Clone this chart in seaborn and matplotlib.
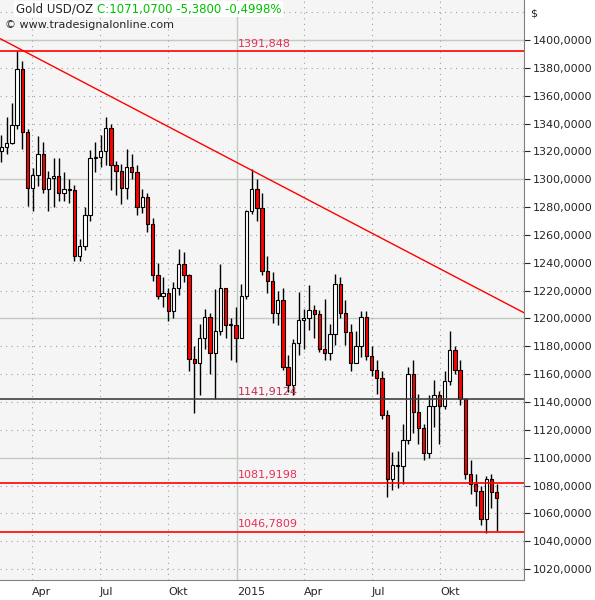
import pandas as pd
import seaborn as sns
import matplotlib.pyplot as plt
import matplotlib.dates as mdates
from matplotlib.ticker import FuncFormatter

# weekly candles (approx)
closes = [1323, 1326, 1339, 1379, 1334, 1294, 1303, 1318, 1293, 1301,
          1302, 1290, 1293, 1292, 1245, 1252, 1274, 1315, 1316, 1320,
          1337, 1310, 1306, 1294, 1309, 1305, 1280, 1287, 1268, 1231,
          1216, 1218, 1205, 1222, 1239, 1231, 1171, 1168, 1186, 1201,
          1175, 1191, 1222, 1195, 1195,
          1186, 1216, 1277, 1293, 1279, 1234, 1227, 1204, 1213, 1165,
          1152, 1182, 1199, 1200, 1206, 1203, 1178, 1175, 1189, 1225,
          1204, 1190, 1168, 1180, 1201, 1173, 1163, 1157, 1131, 1085,
          1095, 1094, 1113, 1160, 1133, 1121, 1103, 1137, 1145, 1137,
          1155, 1177, 1163, 1142, 1088, 1081, 1076, 1056, 1085, 1075,
          1071]
highs = [1332, 1345, 1355, 1392, 1385, 1336, 1308, 1331, 1327, 1306,
         1315, 1315, 1305, 1300, 1296, 1257, 1280, 1321, 1327, 1332,
         1345, 1340, 1313, 1311, 1322, 1318, 1310, 1293, 1290, 1272,
         1240, 1230, 1222, 1226, 1250, 1248, 1232, 1180, 1196, 1207,
         1204, 1221, 1239, 1221, 1200,
         1208, 1225, 1278, 1307, 1300, 1290, 1245, 1233, 1220, 1222,
         1174, 1185, 1219, 1207, 1224, 1210, 1206, 1214, 1196, 1232,
         1230, 1213, 1196, 1191, 1205, 1205, 1180, 1170, 1162, 1134,
         1104, 1105, 1124, 1165, 1170, 1146, 1124, 1145, 1156, 1148,
         1162, 1191, 1180, 1170, 1143, 1098, 1088, 1080, 1087, 1088,
         1081]
lows = [1312, 1318, 1325, 1336, 1322, 1281, 1277, 1295, 1290, 1277,
        1280, 1284, 1284, 1283, 1241, 1241, 1249, 1270, 1305, 1309,
        1310, 1292, 1289, 1282, 1286, 1300, 1274, 1276, 1262, 1227,
        1214, 1208, 1198, 1200, 1217, 1226, 1162, 1132, 1145, 1178,
        1160, 1142, 1188, 1186, 1170,
        1169, 1190, 1214, 1275, 1270, 1231, 1218, 1197, 1195, 1163,
        1147, 1145, 1174, 1178, 1192, 1186, 1176, 1170, 1170, 1181,
        1200, 1181, 1162, 1170, 1172, 1170, 1159, 1146, 1128, 1072,
        1077, 1078, 1081, 1110, 1118, 1110, 1098, 1100, 1122, 1110,
        1135, 1152, 1160, 1138, 1085, 1074, 1065, 1052, 1046, 1064,
        1047]
first_open = 1320

levels = [1391.848, 1141.9124, 1081.9198, 1046.7809]
level_labels = ["1391,848", "1141,9124", "1081,9198", "1046,7809"]
level_colors = ["#ff0000", "#404040", "#ff0000", "#ff0000"]

trend_dates = ["2014-02-17", "2016-01-22"]
trend_values = [1401, 1204]

df = pd.DataFrame({"close": closes, "high": highs, "low": lows})
df["date"] = pd.date_range("2014-02-21", periods=len(df), freq="W-FRI") - pd.Timedelta(days=2)
df["open"] = df["close"].shift(1).fillna(first_open)

sns.set_style("white")
plt.rcParams["font.family"] = ["DejaVu Sans"]

fig = plt.figure(figsize=(5.95, 6.0), dpi=100)
ax = fig.add_axes([0.0, 0.033, 0.881, 0.967])
ax.set_facecolor("#f5f5f5")

# grid
for v in range(1020, 1421, 20):
    if v % 100 == 0:
        ax.axhline(v, color="#c0ccc0", lw=1, zorder=0)
    else:
        ax.axhline(v, color="#a0a0a0", lw=0.8, ls=(0, (1, 4)), zorder=0)
for d in ["2014-04-01", "2014-07-01", "2014-10-01", "2015-04-01", "2015-07-01", "2015-10-01"]:
    ax.axvline(pd.Timestamp(d), color="#a0a0a0", lw=0.8, ls=(0, (1, 4)), zorder=0)
ax.axvline(pd.Timestamp("2015-01-01"), color="#c0ccc0", lw=1, zorder=0)

# candles
x = mdates.date2num(df["date"])
up = df["close"] >= df["open"]
ax.vlines(x, df["low"], df["high"], color="black", lw=1, zorder=2)
body_lo = df[["open", "close"]].min(axis=1)
body_h = (df["close"] - df["open"]).abs().clip(lower=0.8)
ax.bar(x, body_h, bottom=body_lo, width=4.5,
       color=["white" if u else "#ff0000" for u in up],
       edgecolor="black", lw=0.8, zorder=3)

# levels
for lv, lab, col in zip(levels, level_labels, level_colors):
    ax.axhline(lv, color=col, lw=1.2, zorder=4)
    ax.text(pd.Timestamp("2015-01-02"), lv + 2, lab, color="#e8305a" if col != "#404040" else "#c03050",
            fontsize=8, va="bottom", ha="left", zorder=5)

# trend line
tdf = pd.DataFrame({"date": pd.to_datetime(trend_dates), "value": trend_values})
sns.lineplot(data=tdf, x="date", y="value", color="#ff0000", lw=1, ax=ax, zorder=4)

ax.set_xlim(pd.Timestamp("2014-02-17"), pd.Timestamp("2016-01-22"))
ax.set_ylim(1012, 1428.7)
ax.set_xlabel("")
ax.set_ylabel("")

ax.yaxis.tick_right()
ax.set_yticks(range(1020, 1401, 20))
ax.yaxis.set_major_formatter(FuncFormatter(lambda v, p: f"{v:.4f}".replace(".", ",")))
ax.tick_params(axis="y", labelsize=8, length=4, direction="out", pad=2)

ticks = pd.to_datetime(["2014-04-01", "2014-07-01", "2014-10-01", "2015-01-01",
                        "2015-04-01", "2015-07-01", "2015-10-01"])
ax.set_xticks(ticks)
ax.set_xticklabels(["Apr", "Jul", "Okt", "2015", "Apr", "Jul", "Okt"], ha="left")
ax.tick_params(axis="x", labelsize=8, length=4, direction="out", pad=1)
for s in ["top", "left"]:
    ax.spines[s].set_visible(False)
for s in ["right", "bottom"]:
    ax.spines[s].set_color("#808080")

fig.text(0.891, 0.985, "$", fontsize=8, va="top")
t1 = ax.text(0.03, 0.995, "Gold USD/OZ ", transform=ax.transAxes, fontsize=8.5, va="top",
             bbox=dict(facecolor="white", edgecolor="none", pad=1), zorder=6)
ax.annotate("C:1071,0700 -5,3800 -0,4998%", xycoords=t1, xy=(1, 0), va="bottom",
            fontsize=8.5, color="#00c000", zorder=6,
            bbox=dict(facecolor="white", edgecolor="none", pad=1))
ax.text(0.01, 0.965, "© www.tradesignalonline.com", transform=ax.transAxes, fontsize=8, va="top", zorder=6)

plt.savefig("out.png", dpi=100)
